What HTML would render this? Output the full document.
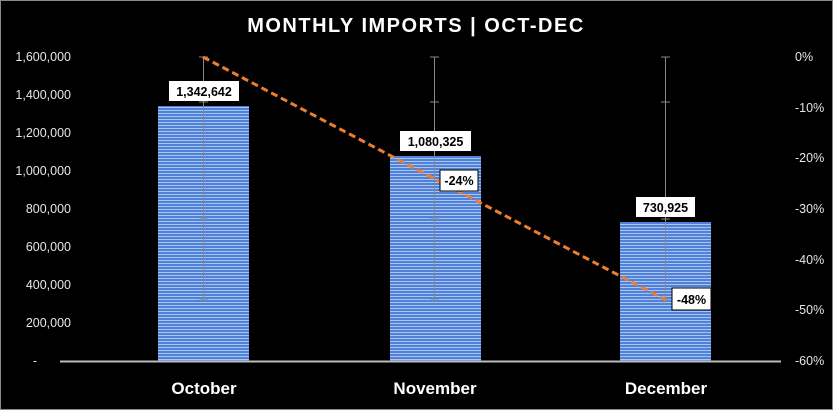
<!DOCTYPE html>
<html><head><meta charset="utf-8"><style>
body{margin:0;background:#000;}
svg{display:block;font-family:"Liberation Sans",sans-serif;}
</style></head><body>
<svg width="833" height="410" viewBox="0 0 833 410">
<defs>
<pattern id="st" width="4" height="3" patternUnits="userSpaceOnUse">
<rect width="4" height="3" fill="#a9c4f0"/>
<rect width="4" height="2" fill="#4f81d9"/>
</pattern>
</defs>
<rect x="0.5" y="0.5" width="832" height="409" fill="#000" stroke="#888"/>
<text x="416" y="32" text-anchor="middle" fill="#fff" font-size="20" font-weight="bold" letter-spacing="1.5">MONTHLY IMPORTS | OCT-DEC</text>
<g fill="#e6e6e6" font-size="12.5" text-anchor="end">
<text x="71" y="61">1,600,000</text>
<text x="71" y="99">1,400,000</text>
<text x="71" y="137">1,200,000</text>
<text x="71" y="175">1,000,000</text>
<text x="71" y="213">800,000</text>
<text x="71" y="251">600,000</text>
<text x="71" y="289">400,000</text>
<text x="71" y="327">200,000</text>
<text x="37" y="365">-</text>
</g>
<g fill="#e6e6e6" font-size="12.5">
<text x="795" y="61">0%</text>
<text x="795" y="112">-10%</text>
<text x="795" y="162">-20%</text>
<text x="795" y="213">-30%</text>
<text x="795" y="264">-40%</text>
<text x="795" y="314">-50%</text>
<text x="795" y="365">-60%</text>
</g>
<rect x="158" y="106" width="91" height="255" fill="url(#st)"/>
<rect x="390" y="156" width="91" height="205" fill="url(#st)"/>
<rect x="620" y="222" width="91" height="139" fill="url(#st)"/>
<line x1="60" y1="361.5" x2="781" y2="361.5" stroke="#bbb" stroke-width="2"/>
<g stroke="#888" stroke-width="1">
<line x1="203.5" y1="57" x2="203.5" y2="300"/><line x1="199" y1="57" x2="208" y2="57"/><line x1="199" y1="102" x2="208" y2="102"/><line x1="199" y1="219" x2="208" y2="219"/><line x1="199" y1="300" x2="208" y2="300"/>
<line x1="434.5" y1="57" x2="434.5" y2="300"/><line x1="430" y1="57" x2="439" y2="57"/><line x1="430" y1="102" x2="439" y2="102"/><line x1="430" y1="219" x2="439" y2="219"/><line x1="430" y1="300" x2="439" y2="300"/>
<line x1="665.5" y1="57" x2="665.5" y2="300"/><line x1="661" y1="57" x2="670" y2="57"/><line x1="661" y1="102" x2="670" y2="102"/><line x1="661" y1="219" x2="670" y2="219"/><line x1="661" y1="300" x2="670" y2="300"/>
</g>
<polyline points="203,57 435,179 666,300" fill="none" stroke="#ed7d31" stroke-width="3" stroke-dasharray="7,4"/>
<g font-size="12.5" font-weight="bold" text-anchor="middle" fill="#000">
<rect x="169" y="81" width="70" height="20" fill="#fff"/><text x="204" y="96">1,342,642</text>
<rect x="400" y="131" width="71" height="20" fill="#fff"/><text x="435.5" y="146">1,080,325</text>
<rect x="636" y="197" width="59" height="20" fill="#fff"/><text x="665.5" y="212">730,925</text>
<rect x="440" y="170" width="38" height="21" fill="#fff" stroke="#000"/><text x="459" y="185">-24%</text>
<rect x="672" y="288" width="39" height="22" fill="#fff" stroke="#000"/><text x="691.5" y="304">-48%</text>
</g>
<g fill="#fff" font-size="17" font-weight="bold" text-anchor="middle">
<text x="204" y="394">October</text>
<text x="435" y="394">November</text>
<text x="666" y="394">December</text>
</g>
</svg>
</body></html>
